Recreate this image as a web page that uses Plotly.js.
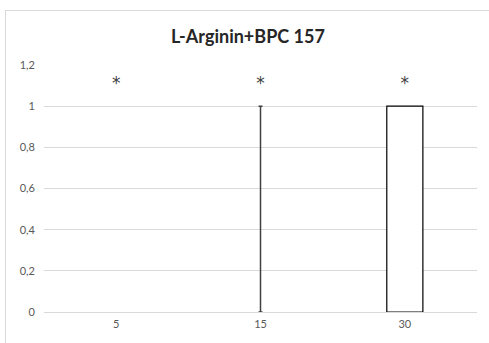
<!DOCTYPE html>
<html>
<head>
<meta charset="utf-8">
<script src="https://cdn.plot.ly/plotly-3.0.1.min.js"></script>
<style>
  html, body { margin: 0; padding: 0; background: #fff; }
  #wrap { position: absolute; left: 0; top: 0; width: 489px; height: 343px; }
  #frame { position: absolute; left: 5px; top: 10px; width: 500px; height: 350px; border: 1px solid #d9d9d9; box-sizing: border-box; pointer-events: none; }
  #chart { position: absolute; left: 0; top: 0; width: 489px; height: 343px; }
</style>
</head>
<body>
<div id="wrap">
  <div id="chart"></div>
  <div id="frame"></div>
</div>
<script>
const categories = ['5', '15', '30'];
const values = [0, 0, 1];
const errorPlus = [0, 1, 0];
const markLabels = ['*', '*', '*'];
const markLevel = [1.105, 1.105, 1.105];
const chartTitle = 'L-Arginin+BPC 157';
const yTicks = [0, 0.2, 0.4, 0.6, 0.8, 1, 1.2];

const withErr = categories.map((c, i) => i).filter(i => errorPlus[i] > 0);

const traces = [
  {
    type: 'bar',
    x: categories,
    y: values,
    marker: { color: '#ffffff', line: { color: '#000000', width: values.map(v => v === 0 ? 0 : 1.2) } },
    hoverinfo: 'none'
  },
  {
    type: 'bar',
    x: withErr.map(i => categories[i]),
    y: withErr.map(i => values[i]),
    marker: { color: 'rgba(0,0,0,0)', line: { width: 0 } },
    error_y: {
      type: 'data', symmetric: false,
      array: withErr.map(i => errorPlus[i]),
      arrayminus: withErr.map(() => 0),
      color: '#404040', thickness: 1.5, width: 2
    },
    hoverinfo: 'none'
  },
  {
    type: 'scatter',
    mode: 'text',
    x: categories,
    y: markLevel,
    text: markLabels,
    textposition: 'middle center',
    textfont: { family: 'DejaVu Sans, sans-serif', size: 17, color: '#404040' },
    hoverinfo: 'none'
  }
];

const layout = {
  width: 489,
  height: 343,
  margin: { l: 44, r: 12, t: 65, b: 31 },
  paper_bgcolor: 'rgba(0,0,0,0)',
  plot_bgcolor: '#ffffff',
  separators: ',.',
  showlegend: false,
  barmode: 'overlay',
  bargap: 0.75,
  font: { family: 'Lato, "Open Sans", sans-serif', color: '#595959', size: 11 },
  title: {
    text: '<b>' + chartTitle + '</b>',
    font: { family: 'Lato, "Open Sans", sans-serif', size: 18, color: '#262626' },
    xref: 'container', x: 0.507, xanchor: 'center',
    yref: 'container', y: 1 - 37 / 343, yanchor: 'middle'
  },
  xaxis: {
    type: 'category',
    categoryarray: categories,
    showgrid: false,
    showline: false,
    zeroline: false,
    ticks: '',
    tickfont: { size: 11, color: '#595959' },
    ticklabelstandoff: 4
  },
  yaxis: {
    range: [0, 1.2],
    tickvals: yTicks,
    showgrid: true,
    gridcolor: '#d9d9d9',
    gridwidth: 1,
    zeroline: true,
    zerolinecolor: '#d9d9d9',
    zerolinewidth: 1,
    showline: false,
    ticks: '',
    tickfont: { size: 11, color: '#595959' },
    ticklabelstandoff: 8
  }
};

Plotly.newPlot('chart', traces, layout, { displayModeBar: false, staticPlot: true });
</script>
</body>
</html>
